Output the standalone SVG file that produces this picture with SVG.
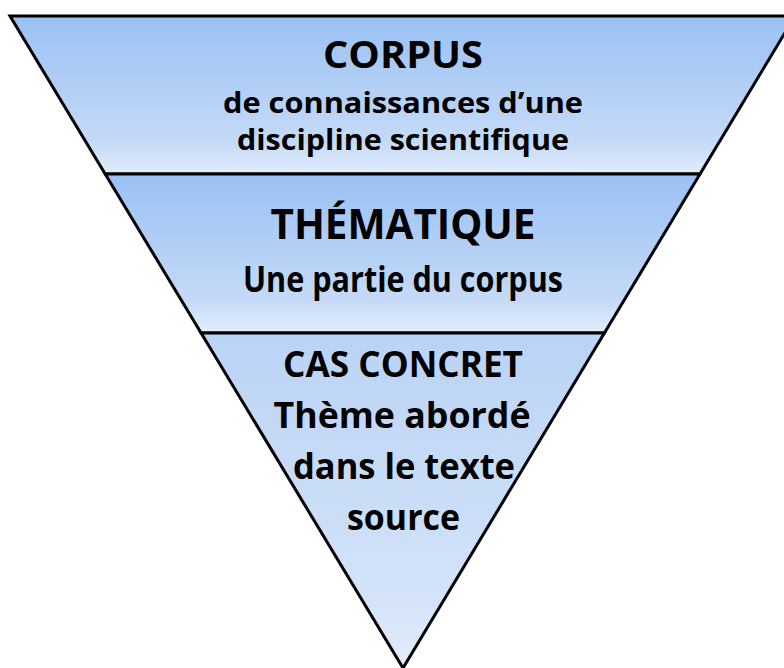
<svg xmlns="http://www.w3.org/2000/svg" width="784" height="668" viewBox="0 0 784 668">
<defs>
<linearGradient id="g1" x1="0" y1="0" x2="0" y2="1">
<stop offset="0" stop-color="#9AC1F4"/>
<stop offset="0.8" stop-color="#C5DAF7"/>
<stop offset="1" stop-color="#E3EDFB"/>
</linearGradient>
<linearGradient id="g3" x1="0" y1="0" x2="0" y2="1">
<stop offset="0" stop-color="#BAD3F5"/>
<stop offset="0.8" stop-color="#D4E3F8"/>
<stop offset="1" stop-color="#E3EDFB"/>
</linearGradient>
<style>
.band{stroke:#000;stroke-width:3;stroke-linejoin:miter}
.t{font-family:"Open Sans","Liberation Sans",sans-serif;font-weight:bold;fill:#000;text-anchor:middle}
</style>
</defs>
<g id="corpus">
<polygon class="band" fill="url(#g1)" points="10,16 795,16 700,174 105.2,174"/>
<text class="t" x="403" y="67.5" font-size="38" textLength="160" lengthAdjust="spacingAndGlyphs">CORPUS</text>
<text class="t" x="403" y="112.5" font-size="29" textLength="360" lengthAdjust="spacingAndGlyphs">de connaissances d’une</text>
<text class="t" x="403" y="150" font-size="29" textLength="332" lengthAdjust="spacingAndGlyphs">discipline scientifique</text>
</g>
<g id="thematique">
<polygon class="band" fill="url(#g1)" points="105.2,174 700,174 604.4,333 201.1,333"/>
<text class="t" x="403" y="238.5" font-size="42" textLength="265" lengthAdjust="spacingAndGlyphs">THÉMATIQUE</text>
<text class="t" x="403" y="291.5" font-size="35" textLength="320" lengthAdjust="spacingAndGlyphs">Une partie du corpus</text>
</g>
<g id="cas-concret">
<polygon class="band" fill="url(#g3)" points="201.1,333 604.4,333 403,668"/>
<text class="t" x="403" y="376.5" font-size="35" textLength="240" lengthAdjust="spacingAndGlyphs">CAS CONCRET</text>
<text class="t" x="402" y="427.5" font-size="36" textLength="257" lengthAdjust="spacingAndGlyphs">Thème abordé</text>
<text class="t" x="404" y="478.5" font-size="36" textLength="222" lengthAdjust="spacingAndGlyphs">dans le texte</text>
<text class="t" x="403.5" y="530" font-size="36" textLength="113" lengthAdjust="spacingAndGlyphs">source</text>
</g>
<g id="connectors"/>
</svg>
